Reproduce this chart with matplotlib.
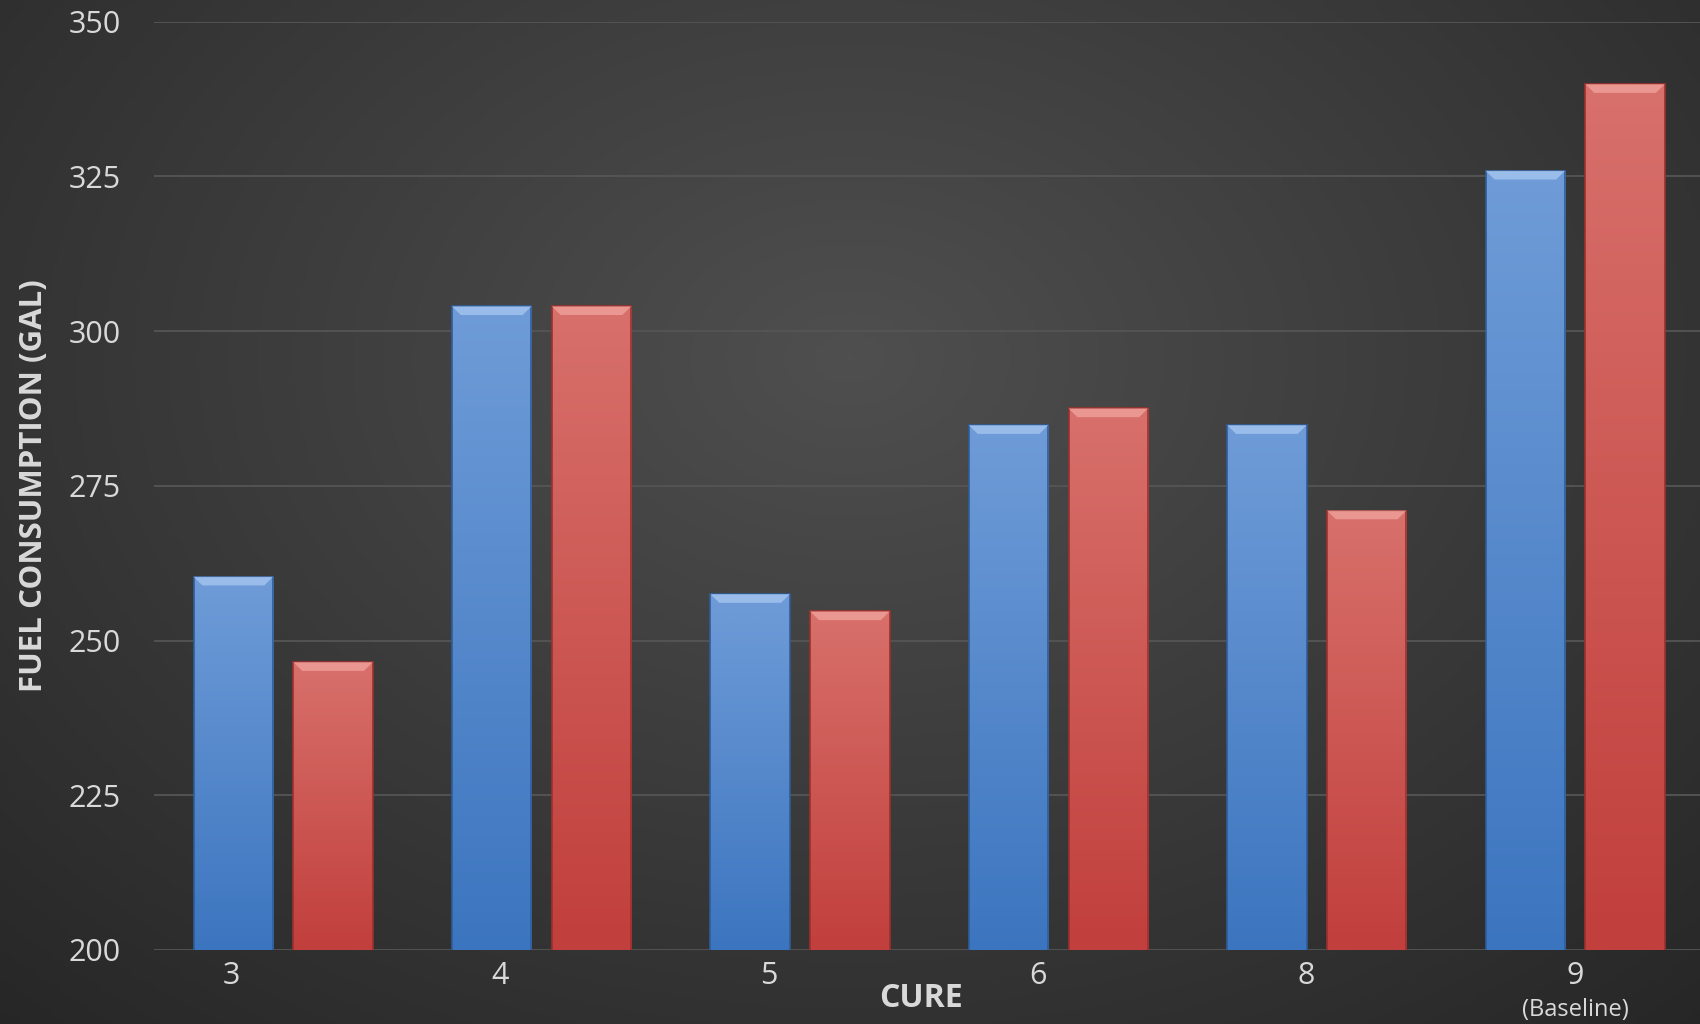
import numpy as np
import matplotlib
matplotlib.use('Agg')
import matplotlib.pyplot as plt
from matplotlib.patches import Polygon
from matplotlib.colors import LinearSegmentedColormap
from matplotlib.transforms import blended_transform_factory

cures = ["3", "4", "5", "6", "8", "9"]
blue_vals = [260.3, 304, 257.5, 284.8, 284.8, 325.9]
red_vals = [246.5, 304, 254.7, 287.5, 271, 339.9]
yticks = [200, 225, 250, 275, 300, 325, 350]

plt.rcParams['font.family'] = ['Open Sans', 'DejaVu Sans']
txt = '#d9d9d9'

fig = plt.figure(figsize=(17, 10.24), dpi=100)

# background radial gradient
bg = fig.add_axes([0, 0, 1, 1], zorder=-10)
yy, xx = np.mgrid[0:1:300j, 0:1:500j]
r = np.sqrt(((xx - 0.5) / 0.75) ** 2 + ((yy - 0.35) / 0.9) ** 2)
r = np.clip(r, 0, 1)
bgcmap = LinearSegmentedColormap.from_list('bg', ['#4f4f4f', '#262626'])
bg.imshow(r, cmap=bgcmap, aspect='auto', extent=[0, 1, 1, 0], vmin=0, vmax=1)
bg.axis('off')

ax = fig.add_axes([0.0906, 0.0723, 0.912, 0.9065])
ax.set_facecolor('none')

x = np.arange(len(cures))
w = 0.307
off = 0.193

blue_cmap = LinearSegmentedColormap.from_list('b', ['#6f9cd8', '#3c75bf'])
red_cmap = LinearSegmentedColormap.from_list('r', ['#d8706b', '#c13f3c'])

def draw(vals, xs, cmap, edge, bevel):
    bars = ax.bar(xs, vals, width=w, color='none', edgecolor=edge, linewidth=1.2, zorder=3)
    for b in bars:
        x0 = b.get_x()
        x1 = x0 + b.get_width()
        top = b.get_height()
        grad = np.linspace(0, 1, 256).reshape(-1, 1)
        im = ax.imshow(grad, cmap=cmap, aspect='auto', extent=[x0, x1, 200, top],
                       origin='upper', zorder=2, interpolation='bicubic')
        im.set_clip_path(b)
        d = 0.034
        h = 1.4
        ax.add_patch(Polygon([[x0, top], [x1, top], [x1 - d, top - h], [x0 + d, top - h]],
                             closed=True, facecolor=bevel, edgecolor='none', alpha=0.85,
                             zorder=4))

draw(blue_vals, x - off, blue_cmap, '#2f5d99', '#a3c3ee')
draw(red_vals, x + off, red_cmap, '#9c302d', '#ee9e99')

ax.set_xlim(-0.5, 5.5)
ax.set_ylim(200, 350)
ax.set_yticks(yticks)
ax.yaxis.grid(True, color='#555555', linewidth=1.3)
ax.set_axisbelow(True)
for s in ax.spines.values():
    s.set_visible(False)
ax.tick_params(length=0, colors=txt, labelsize=22)
ax.tick_params(axis='y', pad=24)
ax.tick_params(axis='x', pad=8)

label_pos = np.linspace(-0.2, 5.0, len(cures))
ax.set_xticks(label_pos)
ax.set_xticklabels(cures)
trans = blended_transform_factory(ax.transData, ax.transAxes)
ax.text(label_pos[-1], -0.052, "(Baseline)", transform=trans, ha='center', va='top',
        color=txt, fontsize=17)

ax.set_xlabel("CURE", color=txt, fontsize=23, fontweight='bold')
ax.xaxis.set_label_coords(0.495, -0.034)
ax.set_ylabel("FUEL CONSUMPTION (GAL)", color=txt, fontsize=22.5, fontweight='bold')
ax.yaxis.set_label_coords(-0.068, 0.5)

fig.savefig('out.png', dpi=100)
